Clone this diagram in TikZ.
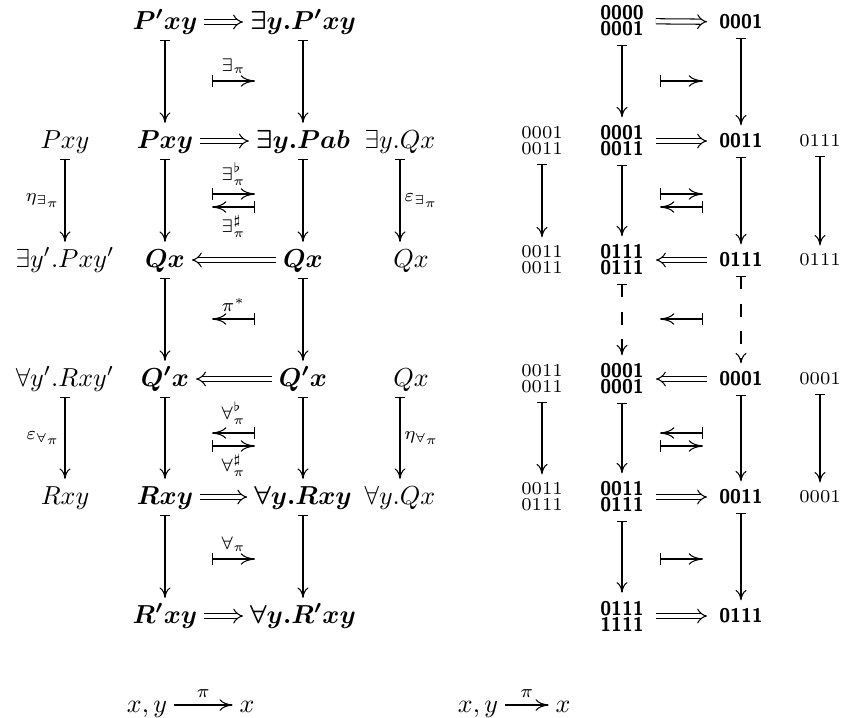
\documentclass[tikz,border=0pt]{standalone}
\usepackage{amsmath}
\usepackage{bm}
\usetikzlibrary{arrows.meta}
\tikzset{
  fobj/.style={inner xsep=2.5pt, inner ysep=3pt, text height=1.5ex, text depth=0.25ex},
  fnum/.style={inner xsep=4.5pt, inner ysep=3pt, align=center, font=\scriptsize},
  fbold/.style={fnum, font=\fontsize{7.6}{9}\selectfont\sffamily\bfseries},
  flbl/.style={inner sep=1.5pt, font=\scriptsize},
  fmid/.style={inner sep=0.5pt, font=\scriptsize},
  vmap/.style={line width=0.4pt,
    arrows={Bar[width=3.6pt]-Computer Modern Rightarrow[length=4pt,width=4.2pt]}},
  hmapto/.style={line width=0.4pt,
    arrows={Bar[width=4.6pt]-Computer Modern Rightarrow[length=5.5pt,width=4.4pt]}},
  hmapfrom/.style={line width=0.4pt,
    arrows={Computer Modern Rightarrow[length=5.5pt,width=4.4pt]-Bar[width=4.6pt]}},
  dashmap/.style={dash pattern=on 5pt off 5.5pt},
  dblarrow/.style={double, double distance=1.6pt, line width=0.4pt, arrows={-Implies}},
  onearrow/.style={line width=0.4pt, arrows={-Computer Modern Rightarrow[length=5pt,width=4.4pt]}}
}
\begin{document}
\begin{tikzpicture}[x=0.3846pt, y=-0.3846pt]
\useasboundingbox (0,0) rectangle (844,717);

% ---------- left diagram: formulas ----------
\node[fobj] (a1) at (165,22) {$\bm{P'xy}$};
\node[fobj] (a2) at (303,22) {$\bm{\exists y.P'xy}$};
\node[fobj] (b0) at (65,141) {$Pxy$};
\node[fobj] (b1) at (165,141) {$\bm{Pxy}$};
\node[fobj] (b2) at (303,141) {$\bm{\exists y.Pab}$};
\node[fobj] (b3) at (400,141) {$\exists y.Qx$};
\node[fobj] (c0) at (65,260) {$\exists y'.Pxy'$};
\node[fobj] (c1) at (165,260) {$\bm{Qx}$};
\node[fobj] (c2) at (303,260) {$\bm{Qx}$};
\node[fobj] (c3) at (411,260) {$Qx$};
\node[fobj] (d0) at (65,379) {$\forall y'.Rxy'$};
\node[fobj] (d1) at (165,379) {$\bm{Q'x}$};
\node[fobj] (d2) at (303,379) {$\bm{Q'x}$};
\node[fobj] (d3) at (411,379) {$Qx$};
\node[fobj] (e0) at (65,497) {$Rxy$};
\node[fobj] (e1) at (165,497) {$\bm{Rxy}$};
\node[fobj] (e2) at (303,497) {$\bm{\forall y.Rxy}$};
\node[fobj] (e3) at (400,497) {$\forall y.Qx$};
\node[fobj] (f1) at (165,616) {$\bm{R'xy}$};
\node[fobj] (f2) at (303,616) {$\bm{\forall y.R'xy}$};
\node[fobj] (g1) at (147,705) {$x,y$};
\node[fobj] (g2) at (247,705) {$x$};

% horizontal double arrows
\draw[dblarrow] (a1) -- (a2);
\draw[dblarrow] (b1) -- (b2);
\draw[dblarrow] (c2) -- (c1);
\draw[dblarrow] (d2) -- (d1);
\draw[dblarrow] (e1) -- (e2);
\draw[dblarrow] (f1) -- (f2);

% vertical maps
\draw[vmap] (a1) -- (b1);
\draw[vmap] (a2) -- (b2);
\draw[vmap] (b0) -- node[left, flbl] {$\eta_{\exists_\pi}$} (c0);
\draw[vmap] (b1) -- (c1);
\draw[vmap] (b2) -- (c2);
\draw[vmap] (b3.south) -- node[right, flbl] {$\varepsilon_{\exists_\pi}$} (b3.south |- c3.north);
\draw[vmap] (c1) -- (d1);
\draw[vmap] (c2) -- (d2);
\draw[vmap] (d0) -- node[left, flbl] {$\varepsilon_{\forall_\pi}$} (e0);
\draw[vmap] (d1) -- (e1);
\draw[vmap] (d2) -- (e2);
\draw[vmap] (d3.south -| e3) -- node[right, flbl] {$\eta_{\forall_\pi}$} (e3);
\draw[vmap] (e1) -- (f1);
\draw[vmap] (e2) -- (f2);

% functors between the fibres
\coordinate (p1s) at (212,81);  \coordinate (p1e) at (255,81);
\coordinate (p2s) at (212,194); \coordinate (p2e) at (255,194);
\coordinate (p3s) at (212,207); \coordinate (p3e) at (255,207);
\coordinate (p4s) at (212,319); \coordinate (p4e) at (255,319);
\coordinate (p5s) at (212,433); \coordinate (p5e) at (255,433);
\coordinate (p6s) at (212,446); \coordinate (p6e) at (255,446);
\coordinate (p7s) at (212,559); \coordinate (p7e) at (255,559);
\draw[hmapto] (p1s) -- node[above=2pt, fmid] {$\exists_\pi$} (p1e);
\draw[hmapto] (p2s) -- node[above=2.5pt, fmid] {$\exists^\flat_\pi$} (p2e);
\draw[hmapfrom] (p3s) -- node[below=2.5pt, fmid] {$\exists^\sharp_\pi$} (p3e);
\draw[hmapfrom] (p4s) -- node[above=2pt, fmid] {$\pi^*$} (p4e);
\draw[hmapfrom] (p5s) -- node[above=2.5pt, fmid] {$\forall^\flat_\pi$} (p5e);
\draw[hmapto] (p6s) -- node[below=2.5pt, fmid] {$\forall^\sharp_\pi$} (p6e);
\draw[hmapto] (p7s) -- node[above=2pt, fmid] {$\forall_\pi$} (p7e);

\draw[onearrow] (g1) -- node[above=2pt, fmid] {$\pi$} (g2);

% ---------- right diagram: truth values ----------
\node[fbold] (A1) at (622,21) {0000\\[-2.8pt]0001};
\node[fbold] (A2) at (741,22) {0001};
\node[fnum]  (B0) at (542,141) {0001\\[-1.8pt]0011};
\node[fbold] (B1) at (622,141) {0001\\[-2.8pt]0011};
\node[fbold] (B2) at (741,141) {0011};
\node[fnum]  (B3) at (820,141) {0111};
\node[fnum]  (C0) at (542,260) {0011\\[-1.8pt]0011};
\node[fbold] (C1) at (622,260) {0111\\[-2.8pt]0111};
\node[fbold] (C2) at (741,260) {0111};
\node[fnum]  (C3) at (820,260) {0111};
\node[fnum]  (D0) at (542,379) {0011\\[-1.8pt]0011};
\node[fbold] (D1) at (622,379) {0001\\[-2.8pt]0001};
\node[fbold] (D2) at (741,379) {0001};
\node[fnum]  (D3) at (820,379) {0001};
\node[fnum]  (E0) at (542,497) {0011\\[-1.8pt]0111};
\node[fbold] (E1) at (622,497) {0011\\[-2.8pt]0111};
\node[fbold] (E2) at (741,497) {0011};
\node[fnum]  (E3) at (820,497) {0001};
\node[fbold] (F1) at (622,616) {0111\\[-2.8pt]1111};
\node[fbold] (F2) at (741,616) {0111};
\node[fobj] (G1) at (478,705) {$x,y$};
\node[fobj] (G2) at (563,705) {$x$};

\draw[dblarrow] (A1) -- (A2);
\draw[dblarrow] (B1) -- (B2);
\draw[dblarrow] (C2) -- (C1);
\draw[dblarrow] (D2) -- (D1);
\draw[dblarrow] (E1) -- (E2);
\draw[dblarrow] (F1) -- (F2);

\draw[vmap] (A1) -- (B1);
\draw[vmap] (A2) -- (B2);
\draw[vmap] (B0) -- (C0);
\draw[vmap] (B1) -- (C1);
\draw[vmap] (B2) -- (C2);
\draw[vmap] (B3) -- (C3);
\draw[vmap, dashmap] (C1) -- (D1);
\draw[vmap, dashmap] (C2) -- (D2);
\draw[vmap] (D0) -- (E0);
\draw[vmap] (D1) -- (E1);
\draw[vmap] (D2) -- (E2);
\draw[vmap] (D3) -- (E3);
\draw[vmap] (E1) -- (F1);
\draw[vmap] (E2) -- (F2);

\coordinate (q1s) at (660,81);  \coordinate (q1e) at (703,81);
\coordinate (q2s) at (660,194); \coordinate (q2e) at (703,194);
\coordinate (q3s) at (660,207); \coordinate (q3e) at (703,207);
\coordinate (q4s) at (660,319); \coordinate (q4e) at (703,319);
\coordinate (q5s) at (660,433); \coordinate (q5e) at (703,433);
\coordinate (q6s) at (660,446); \coordinate (q6e) at (703,446);
\coordinate (q7s) at (660,559); \coordinate (q7e) at (703,559);
\draw[hmapto] (q1s) -- (q1e);
\draw[hmapto] (q2s) -- (q2e);
\draw[hmapfrom] (q3s) -- (q3e);
\draw[hmapfrom] (q4s) -- (q4e);
\draw[hmapfrom] (q5s) -- (q5e);
\draw[hmapto] (q6s) -- (q6e);
\draw[hmapto] (q7s) -- (q7e);

\draw[onearrow] (G1) -- node[above=2pt, fmid] {$\pi$} (G2);
\end{tikzpicture}
\end{document}
